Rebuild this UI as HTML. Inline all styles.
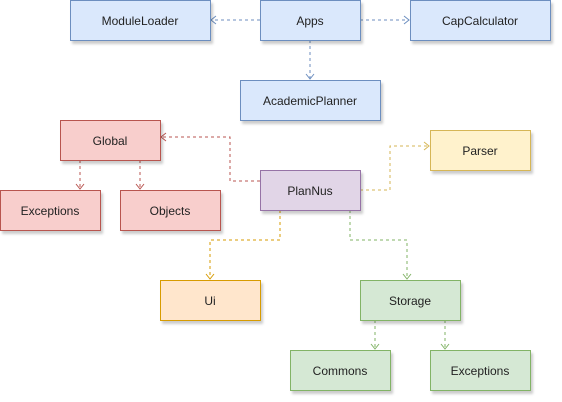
<!DOCTYPE html>
<html><head><style>body{margin:0;background:#fff}svg{display:block}text{font-family:"Liberation Sans",sans-serif;font-size:12px;fill:#222}</style></head><body>
<svg width="562" height="402" xmlns="http://www.w3.org/2000/svg">
<defs><filter id="s" x="-10%" y="-10%" width="130%" height="140%"><feDropShadow dx="2" dy="3" stdDeviation="1.2" flood-color="#000" flood-opacity="0.2"/></filter></defs>
<g fill="none" stroke-width="1" stroke-dasharray="3 3">
<g stroke="#6c8ebf">
<path d="M260 20H211"/><path d="M216 16l-5 4 5 4" stroke-dasharray="none"/>
<path d="M360 20H409"/><path d="M404 16l5 4-5 4" stroke-dasharray="none"/>
<path d="M310 40V79"/><path d="M306 74l4 5 4-5" stroke-dasharray="none"/>
</g>
<g stroke="#b85450">
<path d="M260 181H230V137H161"/><path d="M166 133l-5 4 5 4" stroke-dasharray="none"/>
<path d="M80 160V189"/><path d="M76 184l4 5 4-5" stroke-dasharray="none"/>
<path d="M140 160V189"/><path d="M136 184l4 5 4-5" stroke-dasharray="none"/>
</g>
<g stroke="#d6b656"><path d="M360 190H390V146H429"/><path d="M424 142l5 4-5 4" stroke-dasharray="none"/></g>
<g stroke="#d79b00"><path d="M280 210V240H210V279"/><path d="M206 274l4 5 4-5" stroke-dasharray="none"/></g>
<g stroke="#82b366">
<path d="M350 210V240H407V279"/><path d="M403 274l4 5 4-5" stroke-dasharray="none"/>
<path d="M375 320V349"/><path d="M371 344l4 5 4-5" stroke-dasharray="none"/>
<path d="M445 320V349"/><path d="M441 344l4 5 4-5" stroke-dasharray="none"/>
</g>
</g>
<g filter="url(#s)">
<g fill="#dae8fc" stroke="#6c8ebf">
<rect x="70.5" y="0.5" width="140" height="40"/><rect x="260.5" y="0.5" width="100" height="40"/><rect x="410.5" y="0.5" width="140" height="40"/><rect x="240.5" y="80.5" width="140" height="40"/>
</g>
<g fill="#f8cecc" stroke="#b85450">
<rect x="60.5" y="120.5" width="100" height="40"/><rect x="0.5" y="190.5" width="100" height="40"/><rect x="120.5" y="190.5" width="100" height="40"/>
</g>
<rect x="430.5" y="130.5" width="100" height="40" fill="#fff2cc" stroke="#d6b656"/>
<rect x="260.5" y="170.5" width="100" height="40" fill="#e1d5e7" stroke="#9673a6"/>
<rect x="160.5" y="280.5" width="100" height="40" fill="#ffe6cc" stroke="#d79b00"/>
<g fill="#d5e8d4" stroke="#82b366">
<rect x="360.5" y="280.5" width="100" height="40"/><rect x="290.5" y="350.5" width="100" height="40"/><rect x="430.5" y="350.5" width="100" height="40"/>
</g>
</g>
<g text-anchor="middle">
<text x="140" y="25">ModuleLoader</text><text x="310" y="25">Apps</text><text x="480" y="25">CapCalculator</text><text x="310" y="105">AcademicPlanner</text>
<text x="110" y="145">Global</text><text x="50" y="215">Exceptions</text><text x="170" y="215">Objects</text>
<text x="480" y="155">Parser</text><text x="310" y="195">PlanNus</text><text x="210" y="305">Ui</text>
<text x="410" y="305">Storage</text><text x="340" y="375">Commons</text><text x="480" y="375">Exceptions</text>
</g>
</svg>
</body></html>
